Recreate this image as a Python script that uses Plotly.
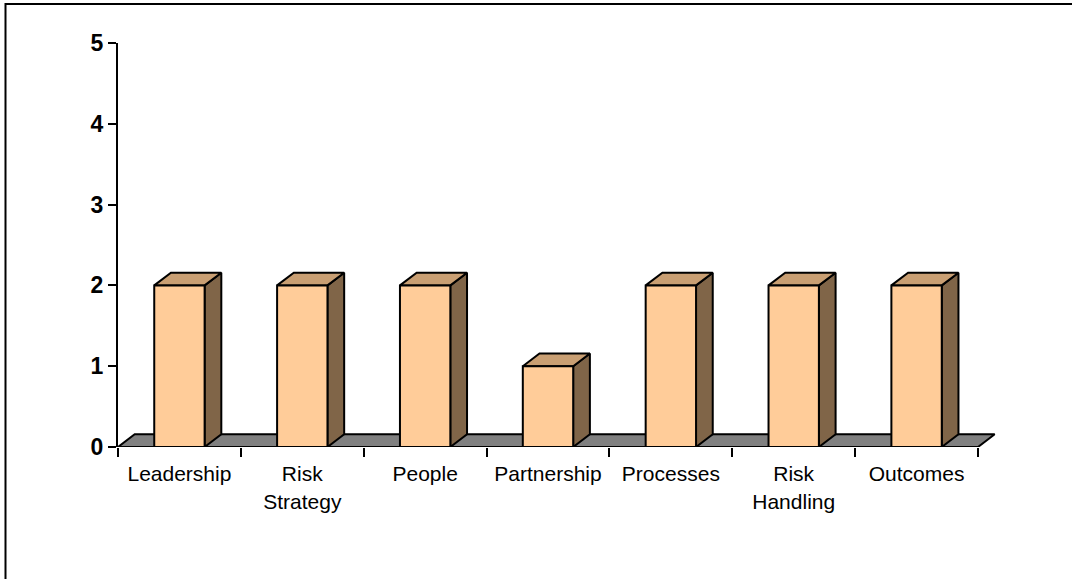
import plotly.graph_objects as go

# Survey scores per area
categories = ["Leadership", "Risk<br>Strategy", "People", "Partnership",
              "Processes", "Risk<br>Handling", "Outcomes"]
scores = [2, 2, 2, 1, 2, 2, 2]
y_ticks = [0, 1, 2, 3, 4, 5]

# Figure geometry (pixels)
W, H = 1072, 579
M_L, M_R, M_T, M_B = 118, 69, 43, 132
PX_PER_X = 860 / 7          # pixels per category
PX_PER_Y = (H - M_T - M_B) / 5

# 3D depth offset expressed in axis units
DEPTH_PX_X, DEPTH_PX_Y = 16.7, 12.7
dx = DEPTH_PX_X / PX_PER_X
dy = DEPTH_PX_Y / PX_PER_Y
BAR_W = 0.41

FRONT = "#FFCC99"
TOP = "#C99F73"
SIDE = "#806548"
FLOOR = "#808080"
EDGE = dict(color="black", width=2)

n = len(categories)
x_lo = -0.5
x_hi = x_lo + (W - M_L - M_R) / PX_PER_X

fig = go.Figure()


def face(xs, ys, color):
    fig.add_trace(go.Scatter(
        x=xs + [xs[0]], y=ys + [ys[0]], mode="lines", fill="toself",
        fillcolor=color, line=EDGE, hoverinfo="skip", showlegend=False,
        xaxis="x", yaxis="y"))


# Floor slab under the bars
face([x_lo, n - 0.5, n - 0.5 + dx, x_lo + dx], [0, 0, dy, dy], FLOOR)

# Bars: side, top and front faces
for i, v in enumerate(scores):
    x0, x1 = i - BAR_W / 2, i + BAR_W / 2
    face([x1, x1 + dx, x1 + dx, x1], [0, dy, v + dy, v], SIDE)
    face([x0, x1, x1 + dx, x0 + dx], [v, v, v + dy, v + dy], TOP)
    face([x0, x1, x1, x0], [0, 0, v, v], FRONT)

# Category labels on an overlaid axis
fig.add_trace(go.Scatter(x=list(range(n)), y=[None] * n, xaxis="x2", yaxis="y",
                         showlegend=False, hoverinfo="skip"))

# Outer frame
pw = W - M_L - M_R
ph = H - M_T - M_B
fig.add_shape(type="rect", xref="paper", yref="paper",
              x0=(5.5 - M_L) / pw, x1=(W + 20 - M_L) / pw,
              y0=-(H + 20 - M_T - ph) / ph, y1=1 + (M_T - 4) / ph,
              line=dict(color="black", width=2), layer="below")

fig.update_layout(
    width=W, height=H,
    margin=dict(l=M_L, r=M_R, t=M_T, b=M_B, pad=0),
    paper_bgcolor="white", plot_bgcolor="white",
    font=dict(family="Liberation Sans, Arial, sans-serif", color="black"),
    xaxis=dict(range=[x_lo, x_hi], tickvals=[k - 0.5 for k in range(n + 1)],
               ticks="outside", ticklen=9, tickwidth=2, tickcolor="black",
               showticklabels=False, showgrid=False, zeroline=False,
               showline=False, fixedrange=True),
    xaxis2=dict(overlaying="x", side="bottom", range=[x_lo, x_hi],
                tickvals=list(range(n)), ticktext=categories,
                ticks="outside", ticklen=8, tickcolor="rgba(0,0,0,0)",
                tickfont=dict(size=21, color="black"),
                showgrid=False, zeroline=False, showline=False, fixedrange=True),
    yaxis=dict(range=[0, 5], tickvals=y_ticks, ticks="outside", ticklen=8,
               tickwidth=2, tickcolor="black", showline=True, linewidth=2,
               linecolor="black", showgrid=False, zeroline=False,
               tickfont=dict(size=23, weight="bold", color="black"),
               fixedrange=True),
    showlegend=False,
)

fig.write_html("out.html")
